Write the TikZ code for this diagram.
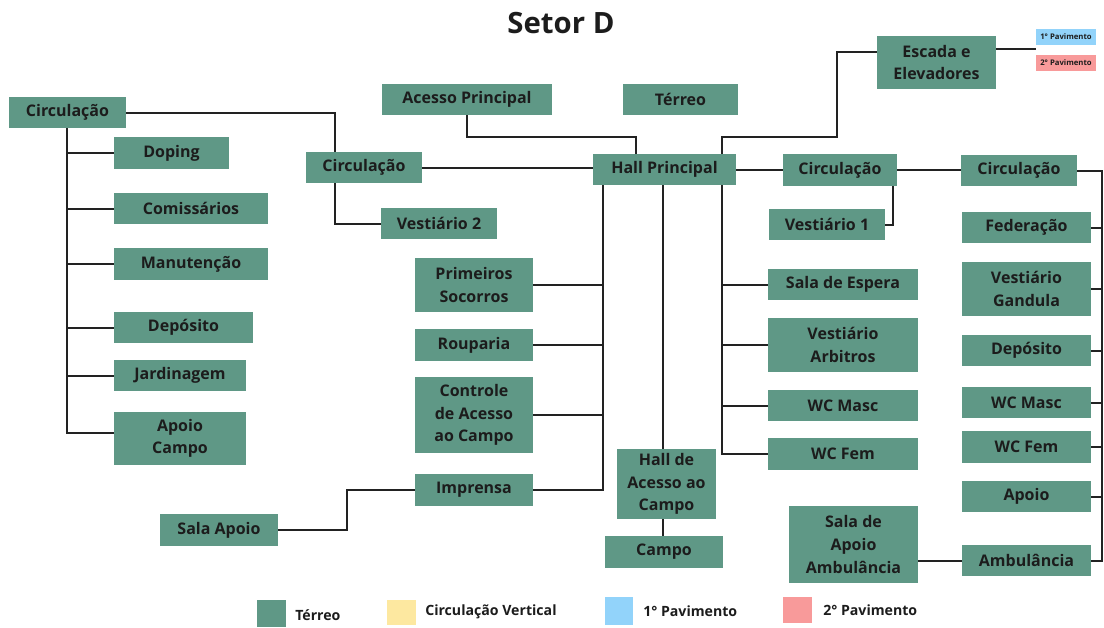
\documentclass[tikz,border=0pt]{standalone}
\usepackage{fontspec}
\setmainfont{Open Sans}
\definecolor{tgreen}{HTML}{5F9886}
\definecolor{tyellow}{HTML}{FDE8A0}
\definecolor{tblue}{HTML}{92D3FA}
\definecolor{tred}{HTML}{F89A9A}
\definecolor{tline}{HTML}{222222}
\definecolor{ttext}{HTML}{1C1C1C}
\tikzset{
  box/.style={fill=tgreen, draw=none, inner sep=0pt, align=center, text=ttext,
    font=\fontsize{12}{17}\selectfont\bfseries},
  bx/.style 2 args={minimum width=#1*0.75pt, minimum height=#2*0.75pt},
  tag/.style={draw=none, inner sep=0pt, text=ttext, font=\fontsize{5.8}{6.5}\selectfont\bfseries},
  swatch/.style={draw=none, inner sep=0pt},
  legtext/.style={anchor=west, inner sep=0pt, text=ttext, font=\fontsize{10.6}{12}\selectfont\bfseries},
  conn/.style={draw=tline, line width=1.5pt},
}
\begin{document}
\begin{tikzpicture}[x=0.75pt,y=-0.75pt]
\useasboundingbox (0,0) rectangle (1104,628);
\fill[white] (0,0) rectangle (1104,628);
\node[text=ttext, font=\fontsize{22}{24}\selectfont\bfseries] (title) at (561,23) {Setor D};
% left column
\node[box,bx={117}{31}] (circ1) at (67.5,112.5) {Circulação};
\node[box,bx={115}{32}] (doping) at (171.5,153) {Doping};
\node[box,bx={154}{31}] (comiss) at (191,208.5) {Comissários};
\node[box,bx={154}{32}] (manut) at (191,264) {Manutenção};
\node[box,bx={139}{31}] (depo1) at (183.5,327.5) {Depósito};
\node[box,bx={132}{31}] (jard) at (180,375.5) {Jardinagem};
\node[box,bx={132}{53}] (apoioc) at (180,438.5) {Apoio\\Campo};
% middle
\node[box,bx={116}{31}] (circ2) at (364,167.5) {Circulação};
\node[box,bx={116}{31}] (vest2) at (439,223.5) {Vestiário 2};
\node[box,bx={170}{31}] (acesso) at (467,99.5) {Acesso Principal};
\node[box,bx={115}{31}] (terreo) at (680.5,99.5) {Térreo};
\node[box,bx={143}{31}] (hall) at (664.5,169.5) {Hall Principal};
\node[box,bx={118}{54}] (prim) at (474,285) {Primeiros\\Socorros};
\node[box,bx={118}{32}] (roup) at (474,345) {Rouparia};
\node[box,bx={118}{76}] (ctrl) at (474,415) {Controle\\de Acesso\\ao Campo};
\node[box,bx={118}{32}] (impr) at (474,490) {Imprensa};
\node[box,bx={118}{32}] (salaap) at (219,530) {Sala Apoio};
\node[box,bx={99}{70}] (hallac) at (666.5,484) {Hall de\\Acesso ao\\Campo};
\node[box,bx={118}{32}] (campo) at (664,552) {Campo};
% top right
\node[box,bx={119}{53}] (escada) at (936.5,62.5) {Escada e\\Elevadores};
\node[tag,fill=tblue,minimum width=45pt,minimum height=12pt] (tag1) at (1066,37) {1° Pavimento};
\node[tag,fill=tred,minimum width=45pt,minimum height=12pt] (tag2) at (1066,63) {2° Pavimento};
% right
\node[box,bx={114}{32}] (circ3) at (840,170) {Circulação};
\node[box,bx={116}{31}] (circ4) at (1019,170.5) {Circulação};
\node[box,bx={116}{31}] (vest1) at (827,224.5) {Vestiário 1};
\node[box,bx={150}{31}] (espera) at (843,284.5) {Sala de Espera};
\node[box,bx={150}{54}] (arbit) at (843,345) {Vestiário\\Arbitros};
\node[box,bx={150}{31}] (wcm1) at (843,405.5) {WC Masc};
\node[box,bx={150}{32}] (wcf1) at (843,454) {WC Fem};
\node[box,bx={129}{31}] (fed) at (1026.5,227.5) {Federação};
\node[box,bx={129}{54}] (gand) at (1026.5,289) {Vestiário\\Gandula};
\node[box,bx={129}{31}] (depo2) at (1026.5,350.5) {Depósito};
\node[box,bx={129}{31}] (wcm2) at (1026.5,402.5) {WC Masc};
\node[box,bx={129}{32}] (wcf2) at (1026.5,447) {WC Fem};
\node[box,bx={129}{31}] (apoio) at (1026.5,496.5) {Apoio};
\node[box,bx={129}{31}] (amb) at (1026.5,560.5) {Ambulância};
\node[box,bx={129}{77}] (salaamb) at (853.5,544.5) {Sala de\\Apoio\\Ambulância};
% legend
\node[swatch,fill=tgreen,minimum width=21.75pt,minimum height=20.25pt] (lg1) at (271.5,613.5) {};
\node[legtext] (lt1) at (295,615) {Térreo};
\node[swatch,fill=tyellow,minimum width=21.75pt,minimum height=18.75pt] (lg2) at (401.5,612.5) {};
\node[legtext] (lt2) at (425,612) {Circulação Vertical};
\node[swatch,fill=tblue,minimum width=21pt,minimum height=21pt] (lg3) at (619,611) {};
\node[legtext] (lt3) at (643,611) {1° Pavimento};
\node[swatch,fill=tred,minimum width=21.75pt,minimum height=19.5pt] (lg4) at (797.5,610) {};
\node[legtext] (lt4) at (823,610) {2° Pavimento};
% junction coordinates
\coordinate (k1) at (335,0);
\coordinate (k2) at (636,137);
\coordinate (k4) at (722,137);
\coordinate (k5) at (837,52);
\coordinate (k6) at (1036,49);
\coordinate (s1) at (603,0);
\coordinate (s2) at (722,0);
\coordinate (s3) at (1102,0);
\coordinate (s0) at (67,0);
\coordinate (k7) at (347,0);
\coordinate (k8) at (893,0);
\coordinate (ja) at (67,433);
% connectors
\draw[conn] (circ1.east) -| (k1 |- circ2.north);
\draw[conn] (circ2.east) -- (circ2.east -| hall.west);
\draw[conn] (k1 |- circ2.south) |- (vest2.west);
\draw[conn] (acesso.south) |- (k2) -- (k2 |- hall.north);
\draw[conn] (k4 |- hall.north) -- (k4) -| (k5) -- (k5 -| escada.west);
\draw[conn] (k6 -| escada.east) -- (k6);
% left column spine
\draw[conn] (s0 |- circ1.south) -- (ja) -- (ja -| apoioc.west);
\draw[conn] (s0 |- doping.west) -- (doping.west);
\draw[conn] (s0 |- comiss.west) -- (comiss.west);
\draw[conn] (s0 |- manut.west) -- (manut.west);
\draw[conn] (s0 |- depo1.west) -- (depo1.west);
\draw[conn] (s0 |- jard.west) -- (jard.west);
% hall left spine
\draw[conn] (s1 |- hall.south) -- (s1 |- impr.east) -- (impr.east);
\draw[conn] (prim.east) -- (prim.east -| s1);
\draw[conn] (roup.east) -- (roup.east -| s1);
\draw[conn] (ctrl.east) -- (ctrl.east -| s1);
\draw[conn] (impr.west) -- (impr.west -| k7) -- (k7 |- salaap.east) -- (salaap.east);
% hall middle
\draw[conn] ([xshift=-1.5pt]hall.south) -- ([xshift=-1.5pt]hall.south |- hallac.north);
\draw[conn] ([xshift=-1.5pt]hall.south |- hallac.south) -- ([xshift=-1.5pt]hall.south |- campo.north);
% hall right spine
\draw[conn] (s2 |- hall.south) -- (s2 |- wcf1.west) -- (wcf1.west);
\draw[conn] (espera.west) -- (espera.west -| s2);
\draw[conn] (arbit.west) -- (arbit.west -| s2);
\draw[conn] (wcm1.west) -- (wcm1.west -| s2);
% right
\draw[conn] (hall.east) -- (hall.east -| circ3.west);
\draw[conn] (circ3.east) -- (circ3.east -| circ4.west);
\draw[conn] (k8 |- circ3.south) |- (vest1.east);
\draw[conn] (circ4.east) -- (s3 |- circ4.east) -- (s3 |- amb.east) -- (amb.east);
\draw[conn] (fed.east) -- (fed.east -| s3);
\draw[conn] (gand.east) -- (gand.east -| s3);
\draw[conn] (depo2.east) -- (depo2.east -| s3);
\draw[conn] (wcm2.east) -- (wcm2.east -| s3);
\draw[conn] (wcf2.east) -- (wcf2.east -| s3);
\draw[conn] (apoio.east) -- (apoio.east -| s3);
\draw[conn] (salaamb.east |- amb.west) -- (amb.west);
\end{tikzpicture}
\end{document}
